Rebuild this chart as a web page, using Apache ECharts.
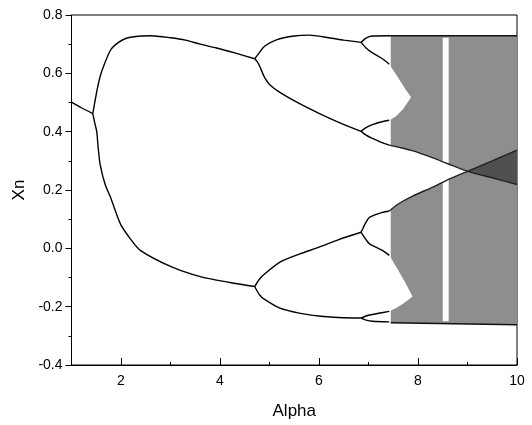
<!DOCTYPE html>
<html>
<head>
<meta charset="utf-8">
<title>Bifurcation diagram</title>
<script src="https://cdn.jsdelivr.net/npm/echarts@6/dist/echarts.min.js"></script>
<style>html, body { margin: 0; background: #fff; }</style>
</head>
<body>
<div id="main" style="width:532px;height:425px;"></div>
<script>
// all points, [alpha, Xn]

// period 1 and period 2
var period1 = [[1, 0.501], [1.2, 0.482], [1.43, 0.462]];
var p2Upper = [[1.43, 0.462], [1.47, 0.50], [1.52, 0.546], [1.58, 0.59], [1.65, 0.625], [1.79, 0.68],
    [1.95, 0.706], [2.12, 0.721], [2.4, 0.728], [2.6, 0.729], [3.0, 0.722], [3.3, 0.714], [3.6, 0.700],
    [3.93, 0.687], [4.3, 0.670], [4.7, 0.650]];
var p2Lower = [[1.43, 0.462], [1.47, 0.43], [1.51, 0.40], [1.54, 0.343], [1.58, 0.286], [1.68, 0.219],
    [1.79, 0.174], [1.99, 0.083], [2.2, 0.03], [2.39, -0.007], [3.0, -0.062], [3.6, -0.097],
    [4.2, -0.117], [4.7, -0.131]];

// period 4
var p4UU = [[4.7, 0.650], [4.8, 0.672], [4.9, 0.693], [5.14, 0.715], [5.5, 0.728], [5.8, 0.731],
    [6.2, 0.722], [6.5, 0.714], [6.85, 0.706]];
var p4UL = [[4.7, 0.650], [4.75, 0.64], [4.8, 0.625], [4.9, 0.586], [5.0, 0.562], [5.21, 0.535],
    [5.6, 0.497], [6.0, 0.463], [6.4, 0.432], [6.85, 0.401]];
var p4LU = [[4.7, -0.131], [4.8, -0.105], [4.9, -0.088], [5.21, -0.047], [5.6, -0.02], [6.0, 0.004],
    [6.4, 0.03], [6.85, 0.055]];
var p4LL = [[4.7, -0.131], [4.8, -0.16], [4.9, -0.175], [5.21, -0.205], [5.6, -0.222], [6.0, -0.232],
    [6.4, -0.237], [6.85, -0.239]];

// period 8
var p8 = [
    [[6.85, 0.706], [6.95, 0.721], [7.08, 0.728], [7.45, 0.729]],
    [[6.85, 0.706], [6.95, 0.687], [7.08, 0.670], [7.28, 0.650], [7.42, 0.631]],
    [[6.85, 0.401], [6.95, 0.414], [7.08, 0.424], [7.25, 0.433], [7.42, 0.439]],
    [[6.85, 0.401], [6.95, 0.388], [7.08, 0.377], [7.25, 0.364], [7.42, 0.354]],
    [[6.85, 0.055], [6.95, 0.09], [7.02, 0.106], [7.28, 0.123], [7.42, 0.128]],
    [[6.85, 0.055], [6.95, 0.03], [7.02, 0.015], [7.28, -0.007], [7.42, -0.024]],
    [[6.85, -0.239], [6.95, -0.232], [7.08, -0.227], [7.42, -0.216]],
    [[6.85, -0.239], [6.95, -0.246], [7.08, -0.25], [7.42, -0.252]]
];

// chaotic region edges
var chaosTop = [[7.45, 0.729], [10, 0.729]];
var chaosBottom = [[7.45, -0.255], [10, -0.262]];
var upperBandLow = [[7.42, 0.354], [7.6, 0.347], [7.9, 0.334], [8.3, 0.31], [8.6, 0.29], [9.0, 0.264],
    [9.5, 0.242], [10, 0.219]];
var lowerBandHigh = [[7.42, 0.128], [7.6, 0.152], [7.9, 0.18], [8.3, 0.21], [8.6, 0.235], [9.0, 0.264],
    [9.5, 0.30], [10, 0.337]];

// empty holes inside the chaotic region
var upperArrow = [[7.42, 0.631], [7.6, 0.585], [7.75, 0.545], [7.86, 0.518], [7.7, 0.478], [7.55, 0.452], [7.42, 0.439]];
var lowerArrow = [[7.42, -0.024], [7.6, -0.075], [7.75, -0.12], [7.89, -0.165], [7.7, -0.19], [7.55, -0.205], [7.42, -0.216]];
var windowStripe = [[8.50, 0.722], [8.62, 0.722], [8.62, -0.250], [8.50, -0.250]];

var xMajor = [2, 4, 6, 8, 10];
var xMinor = [3, 5, 7, 9];

var font = 'Liberation Sans, Arial, sans-serif';

function gapPolygon() {
    var pts = upperBandLow.filter(function (d) { return d[0] <= 9.0; });
    var low = lowerBandHigh.filter(function (d) { return d[0] < 9.0; }).reverse();
    return pts.concat(low);
}

function poly(pts, color, z) {
    return {
        type: 'custom',
        coordinateSystem: 'cartesian2d',
        data: pts,
        z: z,
        silent: true,
        renderItem: function (params, api) {
            if (params.dataIndex !== 0) return null;
            return {
                type: 'polygon',
                shape: { points: pts.map(function (d) { return api.coord(d); }) },
                style: { fill: color }
            };
        }
    };
}

function curve(pts, width, color) {
    return {
        type: 'line',
        data: pts,
        z: 10,
        showSymbol: false,
        symbol: 'none',
        smooth: 0.25,
        silent: true,
        lineStyle: { color: color || '#000', width: width || 1.4 }
    };
}

var chaosBox = [chaosTop[0], chaosTop[1], chaosBottom[1], chaosBottom[0]];
var wedge = [[9.0, 0.264], [10, 0.337], [10, 0.219]];

var series = [
    poly(chaosBox, '#8e8e8e', 2),
    poly(wedge, '#505050', 3),
    poly(gapPolygon(), '#fff', 4),
    poly(upperArrow, '#fff', 4),
    poly(lowerArrow, '#fff', 4),
    poly(windowStripe, '#fff', 5),
    curve(period1), curve(p2Upper), curve(p2Lower),
    curve(p4UU), curve(p4UL), curve(p4LU), curve(p4LL),
    curve(chaosTop, 1.6, '#111'), curve(chaosBottom, 1.6, '#111'),
    curve(upperBandLow, 1.4, '#222'), curve(lowerBandHigh, 1.4, '#222')
];
p8.forEach(function (b) { series.push(curve(b)); });

var chart = echarts.init(document.getElementById('main'));
chart.setOption({
    animation: false,
    backgroundColor: '#fff',
    grid: {
        left: 71.5, right: 15, top: 15, bottom: 55,
        show: true, borderColor: '#000', borderWidth: 1
    },
    xAxis: [{
        type: 'value', min: 1, max: 10, interval: 1,
        name: 'Alpha', nameLocation: 'middle', nameGap: 38,
        nameTextStyle: { fontFamily: font, fontSize: 17, color: '#000' },
        axisLine: { onZero: false, lineStyle: { color: '#000', width: 1 } },
        axisTick: { inside: true, length: 7, customValues: xMajor, lineStyle: { color: '#000' } },
        axisLabel: { customValues: xMajor, margin: 9, fontFamily: font, fontSize: 14, color: '#000' },
        splitLine: { show: false }
    }, {
        type: 'value', min: 1, max: 10, interval: 1, position: 'bottom',
        axisLine: { show: false, onZero: false },
        axisTick: { inside: true, length: 3, customValues: xMinor, lineStyle: { color: '#000' } },
        axisLabel: { show: false },
        splitLine: { show: false }
    }],
    yAxis: {
        type: 'value', min: -0.4, max: 0.8, interval: 0.2,
        name: 'Xn', nameLocation: 'middle', nameGap: 44,
        nameTextStyle: { fontFamily: font, fontSize: 17, color: '#000' },
        axisLine: { onZero: false, lineStyle: { color: '#000', width: 1 } },
        axisTick: { inside: false, length: 6, lineStyle: { color: '#000' } },
        minorTick: { show: true, splitNumber: 2, length: 3, lineStyle: { color: '#000' } },
        axisLabel: {
            margin: 9, fontFamily: font, fontSize: 14, color: '#000',
            formatter: function (v) { return v.toFixed(1); }
        },
        splitLine: { show: false }
    },
    series: series
});
</script>
</body>
</html>
